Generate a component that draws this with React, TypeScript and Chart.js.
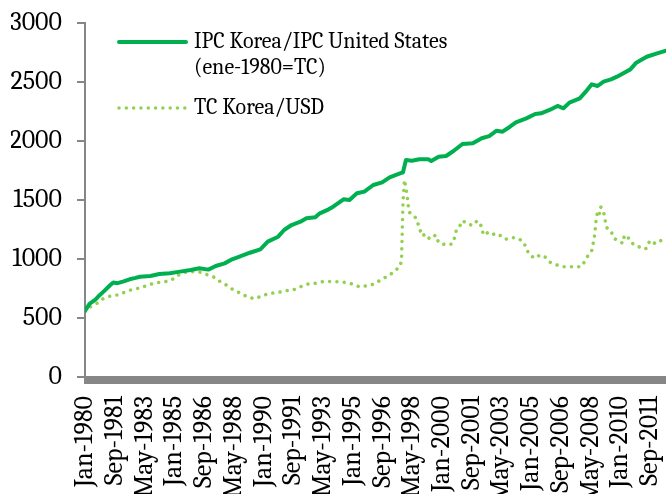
import React, { useEffect, useRef } from "react";
import { Chart, registerables } from "chart.js";

Chart.register(...registerables);

// X tick labels, one every 20 months starting Jan-1980 (month index 0)
const tickLabels = [
  "Jan-1980", "Sep-1981", "May-1983", "Jan-1985", "Sep-1986", "May-1988",
  "Jan-1990", "Sep-1991", "May-1993", "Jan-1995", "Sep-1996", "May-1998",
  "Jan-2000", "Sep-2001", "May-2003", "Jan-2005", "Sep-2006", "May-2008",
  "Jan-2010", "Sep-2011",
];
const labelEvery = 20;
const xMax = 391;

const yTicks = [0, 500, 1000, 1500, 2000, 2500, 3000];

// IPC Korea / IPC United States (ene-1980 = TC): month index and value
const ipcMonths = [
  0, 3, 7, 10, 13, 17, 19, 22, 26, 30, 34, 37, 44, 50, 57, 64, 71, 77, 83, 88,
  94, 99, 104, 111, 118, 123, 130, 134, 139, 145, 149, 155, 158, 164, 167, 174,
  178, 183, 188, 194, 200, 205, 212, 214, 216, 220, 225, 231, 233, 238, 243,
  248, 254, 261, 267, 272, 277, 281, 286, 290, 297, 303, 307, 313, 318, 322,
  326, 333, 337, 341, 345, 349, 354, 358, 362, 367, 371, 378, 385, 391,
];
const ipcValues = [
  560, 620, 655, 695, 730, 780, 800, 795, 810, 828, 840, 850, 856, 873, 879,
  893, 907, 921, 910, 941, 963, 997, 1020, 1053, 1082, 1147, 1189, 1246, 1288,
  1316, 1345, 1353, 1387, 1421, 1443, 1506, 1500, 1557, 1571, 1627, 1650, 1692,
  1726, 1735, 1839, 1833, 1845, 1845, 1831, 1867, 1873, 1915, 1975, 1980, 2023,
  2042, 2087, 2079, 2121, 2158, 2192, 2229, 2235, 2265, 2297, 2277, 2325, 2361,
  2418, 2480, 2466, 2503, 2522, 2545, 2573, 2607, 2664, 2714, 2743, 2765,
];

// TC Korea / USD: month index and value
const tcMonths = [
  0, 3, 8, 12, 17, 22, 27, 32, 37, 43, 48, 53, 58, 62, 67, 72, 77, 82, 87, 91,
  95, 100, 104, 109, 114, 119, 124, 129, 135, 140, 145, 150, 155, 160, 165, 170,
  176, 180, 185, 190, 194, 199, 204, 208, 211, 212, 213, 214, 215, 216, 217,
  218, 221, 223, 225, 227, 229, 232, 236, 238, 243, 247, 249, 250, 252, 254,
  258, 261, 264, 267, 268, 271, 274, 276, 279, 283, 287, 291, 295, 297, 299,
  303, 306, 310, 313, 317, 321, 326, 330, 334, 337, 339, 341, 342, 343, 344,
  345, 346, 347, 349, 350, 351, 354, 356, 359, 362, 363, 366, 368, 371, 375,
  378, 380, 383, 387, 391,
];
const tcValues = [
  555, 590, 624, 661, 686, 695, 720, 743, 754, 782, 799, 805, 819, 858, 887,
  892, 890, 868, 845, 808, 780, 737, 714, 681, 663, 686, 709, 714, 731, 737,
  765, 788, 794, 808, 810, 808, 800, 788, 762, 774, 785, 822, 858, 890, 929,
  935, 990, 1480, 1670, 1600, 1520, 1400, 1364, 1345, 1260, 1195, 1212, 1169,
  1203, 1138, 1119, 1127, 1189, 1251, 1274, 1325, 1294, 1285, 1325, 1274, 1203,
  1223, 1203, 1218, 1203, 1167, 1181, 1178, 1147, 1091, 1034, 1006, 1034, 1014,
  972, 952, 935, 935, 935, 935, 992, 1042, 1070, 1133, 1203, 1340, 1400, 1375,
  1443, 1400, 1330, 1268, 1237, 1175, 1152, 1133, 1203, 1175, 1133, 1119, 1085,
  1090, 1155, 1133, 1161, 1119,
];

const seriesNames: string[][] = [
  ["IPC Korea/IPC United States", "(ene-1980=TC)"],
  ["TC Korea/USD"],
];

const solidColor = "#00B050";
const dotColor = "#92D050";
const axisColor = "#868686";
const fontFamily = "Cambria, 'Liberation Serif', serif";
const axisFont = { family: fontFamily, size: 26 };

const inlineLegend = {
  id: "inlineLegend",
  afterDatasetsDraw(chart: any) {
    const { ctx, chartArea } = chart;
    const left = chartArea.left;
    const top = chartArea.top;
    const rowOffsets = [19, 85];
    ctx.save();
    ctx.font = `22px ${fontFamily}`;
    ctx.textBaseline = "middle";
    ctx.textAlign = "left";
    chart.data.datasets.forEach((ds: any, i: number) => {
      const y = top + rowOffsets[i];
      ctx.beginPath();
      ctx.strokeStyle = ds.borderColor;
      ctx.lineWidth = ds.borderWidth;
      ctx.lineCap = "round";
      ctx.setLineDash(ds.borderDash || []);
      ctx.moveTo(left + 34, y);
      ctx.lineTo(left + 101, y);
      ctx.stroke();
      ctx.setLineDash([]);
      ctx.fillStyle = "#000";
      seriesNames[i].forEach((t, j) => ctx.fillText(t, left + 109, y + j * 26));
    });
    ctx.restore();
  },
};

export default function App() {
  const canvasRef = useRef<HTMLCanvasElement | null>(null);

  useEffect(() => {
    if (!canvasRef.current) return;
    const chart = new Chart(canvasRef.current, {
      type: "line",
      data: {
        datasets: [
          {
            label: seriesNames[0].join(" "),
            data: ipcMonths.map((m, i) => ({ x: m, y: ipcValues[i] })),
            borderColor: solidColor,
            backgroundColor: solidColor,
            borderWidth: 4,
            borderJoinStyle: "round",
            borderCapStyle: "round",
            pointRadius: 0,
            tension: 0,
          },
          {
            label: seriesNames[1].join(" "),
            data: tcMonths.map((m, i) => ({ x: m, y: tcValues[i] })),
            borderColor: dotColor,
            backgroundColor: dotColor,
            borderWidth: 3.5,
            borderDash: [0.01, 7.3],
            borderCapStyle: "round",
            borderJoinStyle: "round",
            pointRadius: 0,
            tension: 0,
          },
        ],
      },
      options: {
        animation: false,
        responsive: true,
        maintainAspectRatio: false,
        layout: { padding: { left: 11, top: 23, right: 0, bottom: 0 } },
        plugins: {
          legend: { display: false },
          tooltip: { enabled: false },
        },
        scales: {
          x: {
            type: "linear",
            min: 0,
            max: xMax,
            afterFit: (scale: any) => {
              scale.height = 117;
              scale.paddingLeft = 0;
              scale.paddingRight = 0;
            },
            border: { display: true, color: axisColor, width: 2 },
            grid: {
              drawOnChartArea: false,
              drawTicks: true,
              tickLength: 7,
              color: axisColor,
              lineWidth: 2,
            },
            ticks: {
              stepSize: 1,
              maxTicksLimit: 1000,
              autoSkip: false,
              minRotation: 90,
              maxRotation: 90,
              padding: 12,
              color: "#000",
              font: axisFont,
              callback: (value: any) => {
                const v = Number(value);
                if (v % labelEvery === 0) {
                  const idx = v / labelEvery;
                  return tickLabels[idx] ?? "";
                }
                return "";
              },
            },
          },
          y: {
            type: "linear",
            min: yTicks[0],
            max: yTicks[yTicks.length - 1],
            afterFit: (scale: any) => {
              scale.width = 74;
              scale.paddingTop = 0;
            },
            border: { display: true, color: axisColor, width: 2 },
            grid: {
              drawOnChartArea: false,
              drawTicks: true,
              tickLength: 8,
              color: axisColor,
              lineWidth: 2,
            },
            ticks: {
              stepSize: 500,
              padding: 15,
              color: "#000",
              font: axisFont,
              callback: (value: any) => String(value),
            },
          },
        },
      },
      plugins: [inlineLegend],
    });
    return () => chart.destroy();
  }, []);

  return (
    <div
      style={{
        position: "absolute",
        left: 0,
        top: 0,
        width: 666,
        height: 494,
        overflow: "hidden",
        background: "#fff",
      }}
    >
      <div style={{ position: "absolute", left: 0, top: 0, width: 666, height: 494 }}>
        <canvas ref={canvasRef} />
      </div>
    </div>
  );
}
